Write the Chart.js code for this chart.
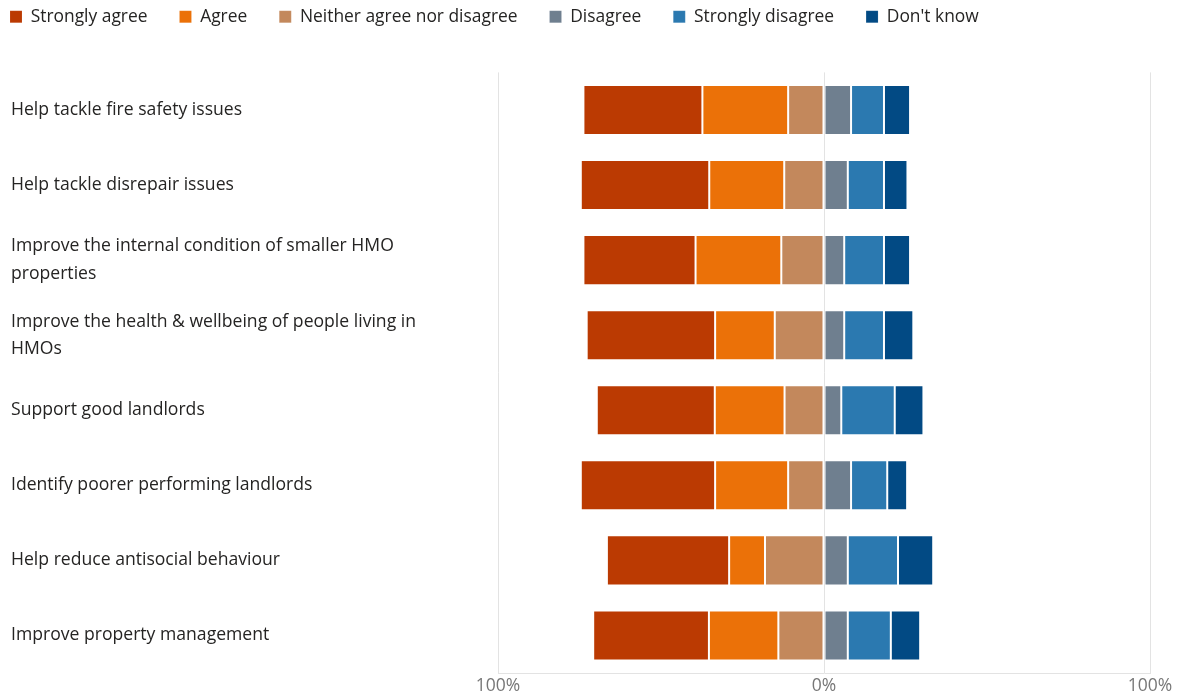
<!DOCTYPE html>
<html>
<head>
<meta charset="utf-8">
<script src="https://cdn.jsdelivr.net/npm/chart.js@4"></script>
<style>
  html, body { margin: 0; padding: 0; background: #ffffff; }
  #wrap { width: 1184px; height: 700px; position: relative; }
</style>
</head>
<body>
<div id="wrap"><canvas id="c"></canvas></div>
<script>
const categories = [
  ["Help tackle fire safety issues"],
  ["Help tackle disrepair issues"],
  ["Improve the internal condition of smaller HMO", "properties"],
  ["Improve the health & wellbeing of people living in", "HMOs"],
  ["Support good landlords"],
  ["Identify poorer performing landlords"],
  ["Help reduce antisocial behaviour"],
  ["Improve property management"]
];
const seriesNames = ["Strongly agree", "Agree", "Neither agree nor disagree", "Disagree", "Strongly disagree", "Don't know"];
// Percentages of respondents
const stronglyAgree    = [36.5, 39.4, 34.4, 39.4, 36.2, 41.2, 37.5, 35.5];
const agree            = [26.3, 23.0, 26.3, 18.3, 21.4, 22.4, 11.0, 21.3];
const neither          = [11.0, 12.2, 13.1, 15.1, 12.1, 11.0, 18.1, 14.0];
const disagree         = [ 8.3,  7.3,  6.2,  6.2,  5.3,  8.3,  7.3,  7.3];
const stronglyDisagree = [10.1, 11.1, 12.2, 12.2, 16.4, 11.1, 15.4, 13.2];
const dontKnow         = [ 8.0,  7.2,  8.0,  9.0,  8.8,  6.1, 10.8,  9.0];
const xTicks = [-100, 0, 100];

const colors = ["#BB3A02", "#EB7108", "#C3885C", "#6F7F8F", "#2B79B0", "#024A84"];
// left side values are drawn as negatives (diverging bar)
const seriesValues = [
  stronglyAgree.map(v => -v),
  agree.map(v => -v),
  neither.map(v => -v),
  disagree,
  stronglyDisagree,
  dontKnow
];
// stacking order outward from zero
const stackOrder = [3, 2, 1, 4, 5, 6];

const FONT = "'Open Sans', 'Noto Sans', sans-serif";

const legendShift = {
  id: 'legendShift',
  afterLayout(chart) {
    const lg = chart.legend;
    if (lg) { lg.left -= 33; lg.top -= 37; }
  }
};

new Chart(document.getElementById('c'), {
  type: 'bar',
  data: {
    labels: categories,
    datasets: seriesNames.map((name, i) => ({
      label: name,
      data: seriesValues[i],
      backgroundColor: colors[i],
      borderColor: 'rgba(255,255,255,0.12)',
      borderWidth: 1,
      borderSkipped: false,
      order: stackOrder[i],
      barPercentage: 0.667,
      categoryPercentage: 1.0
    }))
  },
  options: {
    indexAxis: 'y',
    responsive: true,
    maintainAspectRatio: false,
    animation: false,
    layout: { padding: { left: 11, right: 34, top: 13, bottom: 0 } },
    plugins: {
      legend: {
        display: true,
        position: 'top',
        align: 'start',
        labels: {
          boxWidth: 12,
          boxHeight: 12,
          padding: 32,
          color: '#252423',
          font: { family: FONT, size: 17.4 },
          sort: (a, b) => a.datasetIndex - b.datasetIndex
        }
      },
      tooltip: { enabled: false }
    },
    scales: {
      x: {
        stacked: true,
        min: -100,
        max: 100,
        afterBuildTicks: (s) => { s.ticks = xTicks.map(v => ({ value: v })); },
        ticks: {
          color: '#777777',
          font: { family: FONT, size: 17.5 },
          padding: 3,
          callback: (v) => Math.abs(v) + '%'
        },
        grid: { color: '#E3E3E3', lineWidth: 1, drawTicks: false },
        border: { display: true, color: '#E3E3E3' }
      },
      y: {
        stacked: true,
        afterFit: (s) => { s.width = 487; },
        ticks: {
          crossAlign: 'far',
          color: '#252423',
          font: { family: FONT, size: 17.6, lineHeight: 1.55 }
        },
        grid: { display: false },
        border: { display: false }
      }
    }
  },
  plugins: [legendShift]
});
</script>
</body>
</html>
